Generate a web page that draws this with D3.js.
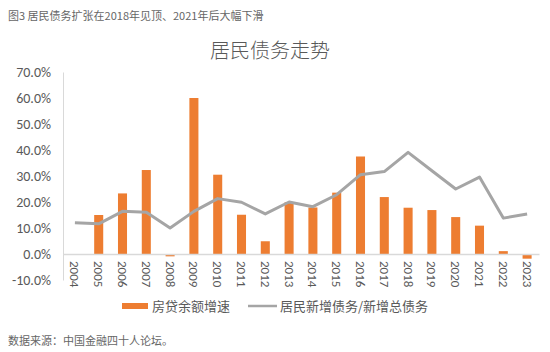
<!DOCTYPE html>
<html>
<head>
<meta charset="utf-8">
<script src="https://cdn.jsdelivr.net/npm/d3@7"></script>
<style>
  body { margin:0; background:#fff; }
  text { font-family: "Noto Sans CJK SC", "Noto Sans", sans-serif; }
</style>
</head>
<body>
<div id="chart"></div>
<script>
/* data */
var years = ["2004","2005","2006","2007","2008","2009","2010","2011","2012","2013",
             "2014","2015","2016","2017","2018","2019","2020","2021","2022","2023"];
var mortgageGrowth = [null,15.0,23.3,32.3,-0.9,60.0,30.5,15.1,4.9,19.9,
                      17.9,23.6,37.5,21.9,17.8,16.9,14.2,10.9,1.1,-1.8];
var householdShare = [12.0,11.6,16.4,16.1,10.0,16.4,21.3,19.9,15.4,20.0,
                      18.2,22.8,30.5,31.7,39.1,32.0,25.0,29.6,13.8,15.4];
var yTicks = [-10,0,10,20,30,40,50,60,70];

var W = 550, H = 352;
var margin = { top:72, right:11, bottom:72, left:63 };
var width = W - margin.left - margin.right;
var height = H - margin.top - margin.bottom;

var svg = d3.select("#chart").append("svg")
  .attr("width", W).attr("height", H);

svg.append("text").attr("x", 8).attr("y", 20)
  .attr("font-size", 11).attr("fill", "#666")
  .text("图3 居民债务扩张在2018年见顶、2021年后大幅下滑");

svg.append("text").attr("x", 270).attr("y", 58)
  .attr("text-anchor", "middle").attr("font-size", 20).attr("fill", "#595959")
  .attr("font-weight", 300)
  .text("居民债务走势");

var g = svg.append("g")
  .attr("transform", "translate(" + margin.left + "," + margin.top + ")");

var x = d3.scaleBand().domain(years).range([0, width]).paddingInner(0.62).paddingOuter(0.31);
var y = d3.scaleLinear().domain([-10, 70]).range([height, 0]);

// y axis
var yAxis = g.append("g").call(d3.axisLeft(y).tickValues(yTicks)
  .tickFormat(function(d){ return d.toFixed(1) + "%"; }).tickSize(0).tickPadding(12));
yAxis.select(".domain").attr("stroke", "#d9d9d9");
yAxis.selectAll("text").attr("font-size", 14).attr("fill", "#595959")
  .style("font-family", "Calibri, Carlito, 'Liberation Sans', sans-serif");

// bars
g.selectAll("rect.bar").data(years.map(function(d,i){ return {year:d, v:mortgageGrowth[i]}; })
    .filter(function(d){ return d.v !== null; }))
  .enter().append("rect")
    .attr("class", "bar")
    .attr("x", function(d){ return x(d.year); })
    .attr("y", function(d){ return y(Math.max(0, d.v)); })
    .attr("width", x.bandwidth())
    .attr("height", function(d){ return Math.abs(y(d.v) - y(0)); })
    .attr("fill", "#ED7D31");

// zero line
var xAxis = g.append("g").attr("transform", "translate(0," + y(0) + ")")
  .call(d3.axisBottom(x).tickSize(0).tickPadding(0));
xAxis.select(".domain").attr("stroke", "#d9d9d9").attr("stroke-width", 1.5);
xAxis.selectAll("text")
  .attr("transform", "rotate(90)")
  .attr("x", 7).attr("y", 0).attr("dy", "0.35em")
  .attr("text-anchor", "start")
  .attr("font-size", 13).attr("fill", "#595959")
  .style("font-family", "Calibri, Carlito, 'Liberation Sans', sans-serif");

// line
var line = d3.line()
  .x(function(d,i){ return x(years[i]) + x.bandwidth()/2; })
  .y(function(d){ return y(d); });
g.append("path").datum(householdShare)
  .attr("d", line).attr("fill", "none")
  .attr("stroke", "#A5A5A5").attr("stroke-width", 3).attr("stroke-linejoin", "round");

// legend
var leg = svg.append("g").attr("transform", "translate(0,306)");
leg.append("rect").attr("x", 122).attr("y", -3).attr("width", 26).attr("height", 6).attr("fill", "#ED7D31");
leg.append("text").attr("x", 152).attr("y", 0).attr("dy", "0.35em")
  .attr("font-size", 13).attr("fill", "#595959").text("房贷余额增速");
leg.append("line").attr("x1", 248).attr("x2", 277).attr("y1", 0).attr("y2", 0)
  .attr("stroke", "#A5A5A5").attr("stroke-width", 2.5);
leg.append("text").attr("x", 280).attr("y", 0).attr("dy", "0.35em")
  .attr("font-size", 13).attr("fill", "#595959").text("居民新增债务/新增总债务");

svg.append("text").attr("x", 8).attr("y", 345)
  .attr("font-size", 11).attr("fill", "#666")
  .text("数据来源：中国金融四十人论坛。");
</script>
</body>
</html>
